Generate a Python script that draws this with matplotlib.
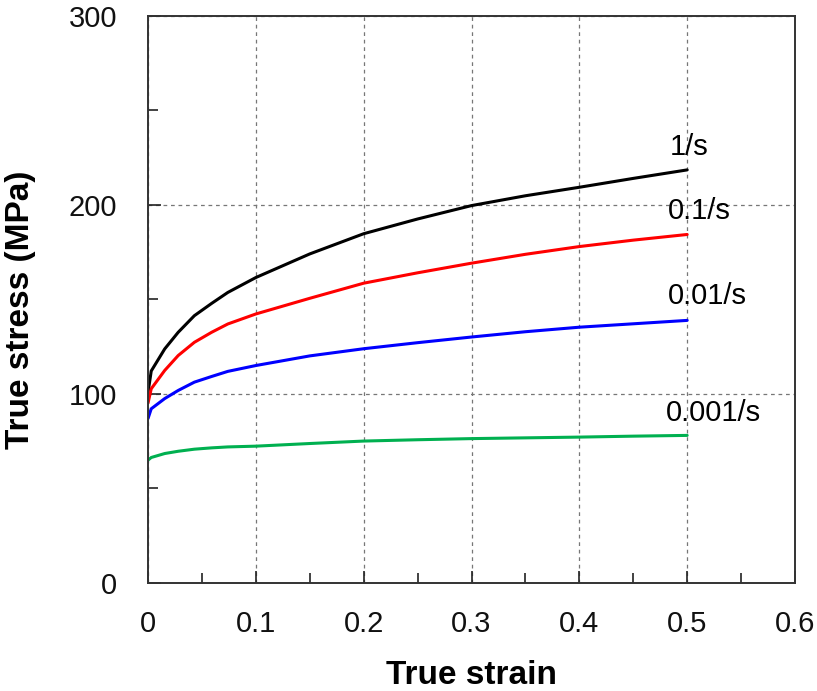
import matplotlib
matplotlib.use("Agg")
import matplotlib.pyplot as plt
from matplotlib.ticker import MultipleLocator

plt.rcParams['font.family'] = ['Liberation Sans', 'DejaVu Sans']

strain = [0.0, 0.003, 0.0155, 0.028, 0.043, 0.059, 0.074, 0.1, 0.15, 0.2, 0.25, 0.3, 0.35, 0.4, 0.45, 0.5]
stress_1 = [100.5, 112.0, 123.7, 132.5, 141.3, 147.8, 153.6, 161.5, 174.0, 184.7, 192.5, 199.6, 204.8, 209.3, 214.0, 218.5]
stress_01 = [95.0, 102.6, 112.3, 120.2, 127.2, 132.5, 136.9, 142.2, 150.5, 158.5, 164.0, 169.1, 173.8, 177.9, 181.3, 184.3]
stress_001 = [86.8, 92.0, 97.4, 101.7, 106.1, 109.1, 111.8, 114.9, 120.0, 123.8, 127.0, 130.0, 132.8, 135.2, 137.0, 138.8]
stress_0001 = [64.8, 66.2, 68.3, 69.5, 70.6, 71.3, 71.8, 72.2, 73.6, 74.9, 75.6, 76.2, 76.6, 77.0, 77.5, 77.9]

series = [
    (stress_1, '#000000', '1/s', (0.484, 230.6)),
    (stress_01, '#ff0000', '0.1/s', (0.482, 196.5)),
    (stress_001, '#0000ff', '0.01/s', (0.482, 151.5)),
    (stress_0001, '#00b050', '0.001/s', (0.480, 89.6)),
]

fig = plt.figure(figsize=(8.17, 6.91), dpi=100)
ax = fig.add_axes([148/817, 1 - 582.5/691, (795-148)/817, (582.5-16)/691])

for ys, c, lab, pos in series:
    ax.plot(strain, ys, color=c, lw=2.2, solid_capstyle='round')
    ax.text(pos[0], pos[1], lab, fontsize=21, ha='left', va='center', color='#000000')

ax.set_xlim(0, 0.6)
ax.set_ylim(0, 300)
ax.xaxis.set_major_locator(MultipleLocator(0.1))
ax.xaxis.set_minor_locator(MultipleLocator(0.05))
ax.yaxis.set_major_locator(MultipleLocator(100))
ax.yaxis.set_minor_locator(MultipleLocator(50))
ax.set_xticklabels(['0', '0.1', '0.2', '0.3', '0.4', '0.5', '0.6'])
ax.xaxis.set_major_locator(MultipleLocator(0.1))

def fmt_x(v, p):
    s = f"{v:.1f}"
    return '0' if abs(v) < 1e-9 else s
from matplotlib.ticker import FuncFormatter
ax.xaxis.set_major_formatter(FuncFormatter(fmt_x))
ax.yaxis.set_major_formatter(FuncFormatter(lambda v, p: f"{int(round(v))}"))

ax.tick_params(which='both', direction='in', top=False, right=False, colors='#222222', labelcolor='#111111')
ax.tick_params(which='major', length=9, width=1.2, labelsize=21)
ax.tick_params(axis='x', which='major', pad=20)
ax.tick_params(axis='y', which='major', pad=22)
ax.tick_params(which='minor', length=7, width=1.2)

ax.grid(True, which='major', linestyle=(0, (3, 3)), color='#777777', linewidth=0.9)

for sp in ax.spines.values():
    sp.set_linewidth(1.4)
    sp.set_color('#333333')

ax.set_xlabel('True strain', fontsize=24, fontweight='bold')
ax.set_ylabel('True stress (MPa)', fontsize=24, fontweight='bold')
ax.xaxis.set_label_coords(0.5, (1 - 675/691 - (1 - 582.5/691)) / ((582.5-16)/691))
ax.yaxis.set_label_coords((21 - 148) / (795 - 148), (582.5 - 310) / (582.5 - 16))
ax.xaxis.label.set_va('center')
ax.yaxis.label.set_va('center')

fig.savefig('out.png', dpi=100)
